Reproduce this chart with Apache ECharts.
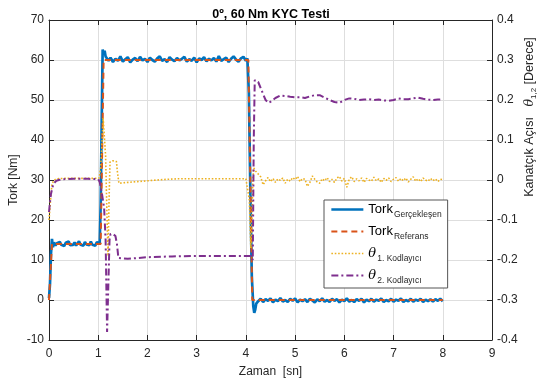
<!DOCTYPE html>
<html>
<head>
<meta charset="utf-8">
<script src="https://cdn.jsdelivr.net/npm/echarts@6/dist/echarts.min.js"></script>
<style>
  html, body { margin: 0; padding: 0; background: #fff; }
  #chart { width: 542px; height: 383px; }
</style>
</head>
<body>
<div id="chart"></div>
<script>
// Time axis ticks [sn]
const timeTicks = [0, 1, 2, 3, 4, 5, 6, 7, 8, 9];

// Measured torque [Nm] as [time, value]
const torqueReal = [
  [0,0.5],[0.02,4],[0.04,11.5],[0.06,15.3],[0.08,13.2],[0.1,14.4],[0.13,13.6],[0.16,14.2],[0.19,13.7],[0.22,14.5],
  [0.25,13.8],[0.28,14.1],[0.31,13.5],[0.34,14.3],[0.37,13.9],[0.4,14.6],[0.43,13.7],[0.46,14.2],[0.49,13.8],[0.52,14.4],
  [0.55,13.6],[0.58,14.1],[0.61,14.7],[0.64,13.8],[0.67,14.2],[0.7,13.6],[0.73,14.5],[0.76,13.9],[0.79,14.3],[0.82,13.7],
  [0.85,14.6],[0.88,13.8],[0.91,14.2],[0.94,13.6],[0.97,14.4],[1.0,13.9],[1.03,14.3],[1.05,24],[1.07,44],[1.09,62.6],
  [1.11,61.5],[1.13,62.3],[1.15,60.9],[1.18,61.2],[1.21,59.8],
  [1.25,60.6],[1.3,59.5],[1.35,60.3],[1.4,59.8],[1.45,60.9],[1.5,59.6],[1.55,60.2],[1.6,60.7],[1.65,59.4],[1.7,60.1],
  [1.75,60.5],[1.8,59.7],[1.85,60.8],[1.9,59.9],[1.95,60.3],[2.0,59.5],[2.05,60.6],[2.1,60.0],[2.15,59.6],[2.2,60.4],
  [2.25,60.9],[2.3,59.8],[2.35,60.2],[2.4,59.5],[2.45,60.7],[2.5,60.1],[2.55,59.7],[2.6,60.5],[2.65,59.9],[2.7,60.3],
  [2.75,60.8],[2.8,59.6],[2.85,60.2],[2.9,59.8],[2.95,60.6],[3.0,59.4],[3.05,60.4],[3.1,60.0],[3.15,60.7],[3.2,59.7],
  [3.25,60.3],[3.3,59.9],[3.35,60.5],[3.4,59.6],[3.45,61.0],[3.5,59.8],[3.55,60.2],[3.6,60.6],[3.65,59.5],[3.7,60.3],
  [3.75,60.9],[3.8,60.1],[3.85,59.6],[3.9,60.4],[3.95,60.8],[4.0,59.8],[4.03,60.4],[4.06,52],[4.09,28],[4.12,6],
  [4.15,-1.5],[4.17,-3.2],[4.19,-2.4],[4.21,-0.9],
  [4.25,-0.3],[4.3,0.3],[4.35,-0.5],[4.4,0.2],[4.45,-0.2],[4.5,0.4],[4.55,-0.6],[4.6,0.1],[4.65,-0.3],[4.7,0.5],
  [4.75,-0.4],[4.8,0.0],[4.85,-0.5],[4.9,0.3],[4.95,-0.2],[5.0,0.4],[5.05,-0.6],[5.1,0.1],[5.15,-0.3],[5.2,0.2],
  [5.25,-0.5],[5.3,0.3],[5.35,-0.1],[5.4,-0.6],[5.45,0.2],[5.5,-0.3],[5.55,0.4],[5.6,-0.4],[5.65,0.0],[5.7,-0.5],
  [5.75,0.3],[5.8,-0.2],[5.85,0.2],[5.9,-0.6],[5.95,0.1],[6.0,-0.3],[6.05,0.4],[6.1,-0.4],[6.15,0.0],[6.2,-0.5],
  [6.25,0.2],[6.3,-0.2],[6.35,0.3],[6.4,-0.6],[6.45,0.1],[6.5,-0.3],[6.55,0.3],[6.6,-0.4],[6.65,0.1],[6.7,-0.2],
  [6.75,0.4],[6.8,-0.5],[6.85,0.0],[6.9,-0.3],[6.95,0.3],[7.0,-0.4],[7.05,0.1],[7.1,-0.2],[7.15,0.4],[7.2,-0.5],
  [7.25,0.0],[7.3,-0.3],[7.35,0.3],[7.4,-0.4],[7.45,0.1],[7.5,-0.2],[7.55,0.3],[7.6,-0.5],[7.65,0.1],[7.7,-0.3],
  [7.75,0.2],[7.8,-0.4],[7.85,0.2],[7.9,-0.2],[7.95,0.3],[8.0,-0.3]
];

// Reference torque [Nm]
const torqueRef = [[0,0],[0.06,14],[1.05,14],[1.11,60],[4.05,60],[4.13,0],[8.0,0]];

// Encoder 1 angle
const theta1 = [
  [0,-0.1],[0.02,-0.07],[0.04,-0.035],[0.06,-0.012],[0.09,-0.002],[0.15,0.003],[0.3,0.004],[0.6,0.004],[0.9,0.004],
  [1.02,0.005],[1.05,0.03],[1.08,0.1],[1.1,0.155],[1.13,0.15],[1.15,0.06],[1.18,-0.1],[1.2,-0.19],[1.22,-0.05],
  [1.24,0.045],[1.3,0.048],[1.37,0.046],[1.39,0.02],[1.42,-0.008],[1.6,-0.006],[1.8,-0.004],[2.0,-0.002],[2.3,0.001],
  [2.6,0.003],[3.0,0.003],[3.5,0.003],[4.0,0.003],[4.04,0.002],[4.07,-0.05],[4.1,-0.17],[4.12,-0.12],[4.14,0.0],
  [4.16,0.03],[4.2,0.022],[4.25,0.015],[4.3,0.008],[4.35,-0.012],[4.4,-0.002],[4.45,0.006],[4.5,-0.004],[4.55,0.004],
  [4.6,-0.006],[4.65,0.003],[4.7,-0.001],[4.75,0.005],[4.8,-0.008],[4.85,0.002],[4.9,-0.003],[4.95,0.006],[5.0,0.001],
  [5.05,0.009],[5.1,-0.004],[5.15,0.004],[5.2,0.002],[5.25,-0.016],[5.3,-0.006],[5.35,0.01],[5.4,0.002],[5.45,-0.005],
  [5.5,-0.008],[5.55,0.003],[5.6,-0.002],[5.65,0.006],[5.7,-0.004],[5.75,0.002],[5.8,-0.006],[5.85,0.005],[5.9,0.009],
  [5.95,-0.003],[6.0,0.004],[6.05,-0.018],[6.1,0.002],[6.15,0.008],[6.2,-0.004],[6.25,0.003],[6.3,-0.002],[6.35,0.005],
  [6.4,-0.006],[6.45,0.004],[6.5,0.0],[6.55,-0.003],[6.6,0.007],[6.65,-0.002],[6.7,0.003],[6.75,-0.006],[6.8,0.004],
  [6.85,-0.001],[6.9,0.005],[6.95,-0.004],[7.0,0.002],[7.05,0.006],[7.1,-0.003],[7.15,0.004],[7.2,-0.002],[7.25,0.005],
  [7.3,-0.005],[7.35,0.002],[7.4,0.008],[7.45,-0.003],[7.5,0.003],[7.55,-0.004],[7.6,0.005],[7.65,0.0],[7.7,-0.003],
  [7.75,0.004],[7.8,-0.002],[7.85,0.003],[7.9,-0.004],[7.95,0.002],[8.0,0.001]
];

// Encoder 2 angle
const theta2 = [
  [0,-0.08],[0.02,-0.055],[0.04,-0.035],[0.07,-0.018],[0.1,-0.008],[0.15,-0.002],[0.25,0.002],[0.5,0.003],[0.8,0.003],
  [1.0,0.002],[1.03,-0.005],[1.07,-0.03],[1.12,-0.07],[1.15,-0.15],[1.18,-0.38],[1.21,-0.385],[1.23,-0.15],[1.25,-0.135],
  [1.3,-0.135],[1.35,-0.14],[1.38,-0.16],[1.41,-0.195],[1.45,-0.198],[1.6,-0.197],[1.8,-0.195],[2.0,-0.193],[2.5,-0.191],
  [3.0,-0.19],[3.5,-0.19],[4.0,-0.19],[4.1,-0.19],[4.14,-0.2],[4.16,0.1],[4.18,0.25],[4.2,0.255],[4.25,0.245],[4.3,0.23],
  [4.35,0.215],[4.4,0.2],[4.46,0.193],[4.52,0.197],[4.6,0.205],[4.7,0.211],[4.8,0.21],[4.9,0.208],[5.0,0.207],[5.1,0.207],
  [5.2,0.205],[5.3,0.209],[5.4,0.212],[5.5,0.212],[5.6,0.206],[5.7,0.2],[5.8,0.195],[5.9,0.193],[6.0,0.2],[6.1,0.204],
  [6.2,0.203],[6.3,0.2],[6.4,0.201],[6.5,0.202],[6.6,0.2],[6.7,0.201],[6.8,0.199],[6.9,0.198],[7.0,0.2],[7.1,0.204],
  [7.2,0.202],[7.3,0.202],[7.4,0.204],[7.5,0.206],[7.6,0.203],[7.7,0.201],[7.8,0.2],[7.9,0.201],[8.0,0.202]
];

const seriesNames = ['TorkG', 'TorkR', 'Theta1', 'Theta2'];
const legendText = {
  TorkG: '{m|Tork}{s|Gerçekleşen}',
  TorkR: '{m|Tork}{s|Referans}',
  Theta1: '{th|θ}{s|1. Kodlayıcı}',
  Theta2: '{th|θ}{s|2. Kodlayıcı}'
};

const FONT = 'Liberation Sans, Arial, Helvetica, sans-serif';
const AX = '#262626';
const GRID = '#dedede';

const chart = echarts.init(document.getElementById('chart'), null, { renderer: 'canvas' });

const axisCommon = {
  axisLine: { show: true, onZero: false, lineStyle: { color: AX, width: 1 } },
  axisTick: { show: true, inside: true, length: 5, lineStyle: { color: AX } },
  axisLabel: { color: AX, fontFamily: FONT, fontSize: 12 },
  nameTextStyle: { color: AX, fontFamily: FONT, fontSize: 12 }
};

chart.setOption({
  animation: false,
  backgroundColor: '#fff',
  title: {
    text: '0º, 60 Nm KYC Testi',
    left: 'center',
    top: 3,
    textStyle: { fontFamily: FONT, fontSize: 12.5, fontWeight: 'bold', color: '#000' }
  },
  grid: { left: 49, right: 50, top: 20, bottom: 43, containLabel: false, outerBoundsMode: 'none' },
  xAxis: [
    Object.assign({}, axisCommon, {
      type: 'value', min: timeTicks[0], max: timeTicks[timeTicks.length - 1], interval: 1,
      position: 'bottom',
      name: 'Zaman  [sn]', nameLocation: 'middle', nameGap: 26,
      axisLabel: Object.assign({}, axisCommon.axisLabel, { margin: 8 }),
      splitLine: { show: true, lineStyle: { color: GRID, width: 1 } }
    }),
    Object.assign({}, axisCommon, {
      type: 'value', min: timeTicks[0], max: timeTicks[timeTicks.length - 1], interval: 1,
      position: 'top',
      axisLabel: { show: false },
      splitLine: { show: false }
    })
  ],
  yAxis: [
    Object.assign({}, axisCommon, {
      type: 'value', min: -10, max: 70, interval: 10, position: 'left',
      name: 'Tork [Nm]', nameLocation: 'middle', nameGap: 29, nameMoveOverlap: false,
      axisLabel: Object.assign({}, axisCommon.axisLabel, { margin: 5 }),
      splitLine: { show: true, lineStyle: { color: GRID, width: 1 } }
    }),
    Object.assign({}, axisCommon, {
      type: 'value', min: -0.4, max: 0.4, interval: 0.1, position: 'right',
      axisLabel: Object.assign({}, axisCommon.axisLabel, { margin: 5 }),
      splitLine: { show: false }
    })
  ],
  legend: {
    data: seriesNames,
    orient: 'vertical',
    left: 324,
    top: 200,
    padding: [3, 6, 3, 6],
    itemGap: 6,
    itemWidth: 32,
    itemHeight: 14,
    backgroundColor: '#fff',
    borderColor: '#555',
    borderWidth: 1,
    borderRadius: 0,
    itemStyle: { opacity: 0 },
    lineStyle: { width: 'inherit' },
    formatter: function (name) { return legendText[name]; },
    textStyle: {
      color: AX,
      rich: {
        m: { fontFamily: FONT, fontSize: 13, color: '#000' },
        th: { fontFamily: 'DejaVu Serif', fontStyle: 'italic', fontSize: 13, color: '#000' },
        s: { fontFamily: FONT, fontSize: 8.5, color: AX, padding: [10, 0, 0, 1] }
      }
    }
  },
  series: [
    {
      name: 'TorkG', type: 'line', xAxisIndex: 0, yAxisIndex: 0, data: torqueReal,
      symbol: 'none', lineStyle: { color: '#0072BD', width: 2.7 }, itemStyle: { color: '#0072BD' }, z: 2
    },
    {
      name: 'TorkR', type: 'line', xAxisIndex: 0, yAxisIndex: 0, data: torqueRef,
      symbol: 'none', lineStyle: { color: '#D95319', width: 2, type: [6, 4] }, itemStyle: { color: '#D95319' }, z: 3
    },
    {
      name: 'Theta1', type: 'line', xAxisIndex: 0, yAxisIndex: 1, data: theta1,
      symbol: 'none', lineStyle: { color: '#EDB120', width: 1.6, type: [1.6, 1.8] }, itemStyle: { color: '#EDB120' }, z: 4
    },
    {
      name: 'Theta2', type: 'line', xAxisIndex: 0, yAxisIndex: 1, data: theta2,
      symbol: 'none', lineStyle: { color: '#7E2F8E', width: 2, type: [7, 3, 2, 3] }, itemStyle: { color: '#7E2F8E' }, z: 5
    }
  ],
  graphic: [
    {
      type: 'text',
      x: 530, y: 117,
      rotation: Math.PI / 2,
      style: {
        text: '{m|Kanatçık Açısı   }{th|θ}{s|1,2}{m| [Derece]}',
        align: 'center',
        verticalAlign: 'middle',
        rich: {
          m: { fontFamily: FONT, fontSize: 12.5, fill: AX },
          th: { fontFamily: 'DejaVu Serif', fontStyle: 'italic', fontSize: 12.5, fill: AX },
          s: { fontFamily: FONT, fontSize: 8, fill: AX, padding: [8, 0, 0, 0] }
        }
      }
    }
  ]
});
</script>
</body>
</html>
